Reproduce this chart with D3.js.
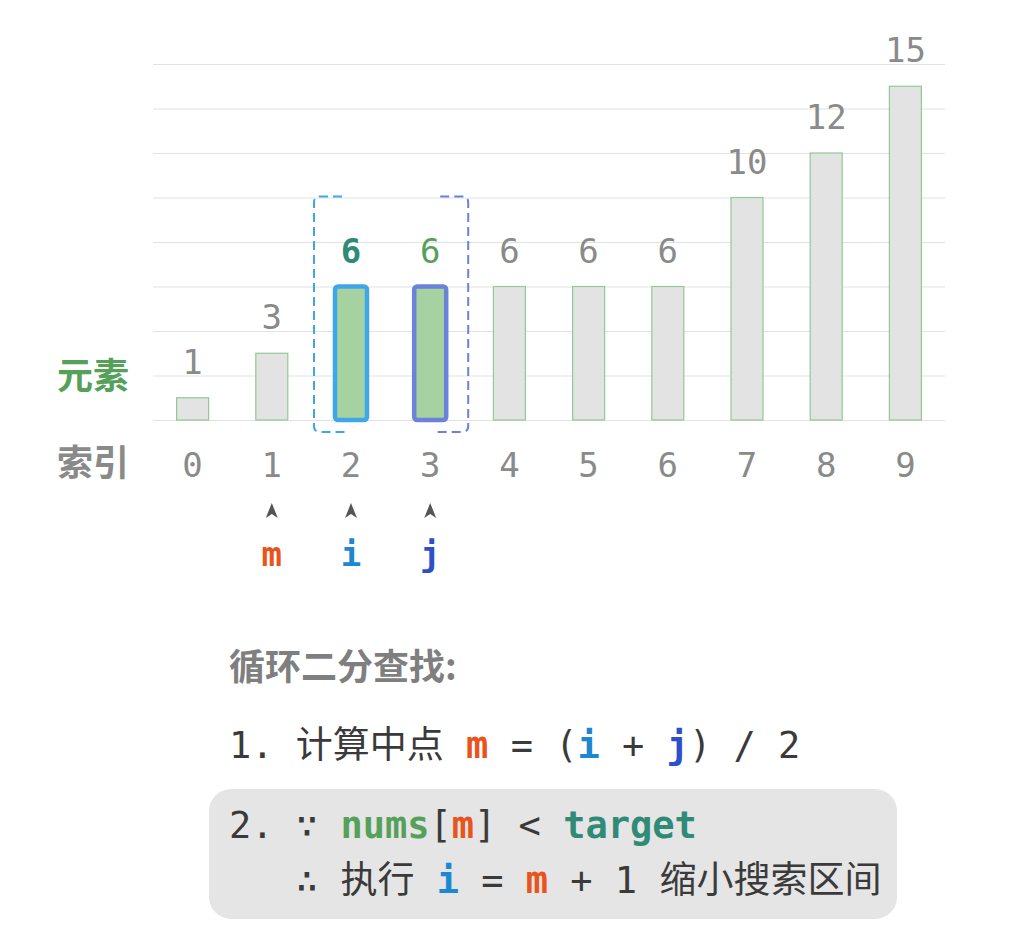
<!DOCTYPE html>
<html>
<head>
<meta charset="utf-8">
<script src="https://cdn.jsdelivr.net/npm/d3@7/dist/d3.min.js"></script>
<style>
  html, body { margin: 0; padding: 0; background: #ffffff; }
  svg { display: block; }
  text { white-space: pre; }
</style>
</head>
<body>
<script>
// ---- data ----
const indices = [0, 1, 2, 3, 4, 5, 6, 7, 8, 9];
const values = [1, 3, 6, 6, 6, 6, 6, 10, 12, 15];
const gridTicks = [0, 2, 4, 6, 8, 10, 12, 14, 16];
const pointerNames = ["m", "i", "j"];
const pointerIndex = [1, 2, 3];
const rowLabels = ["元素", "索引"];
const titleText = "循环二分查找:";

const W = 1032, H = 946;
const MONO = "'DejaVu Sans Mono', 'Noto Sans CJK SC', monospace";
const CJK = "'Noto Sans CJK SC', 'DejaVu Sans', sans-serif";
const C = {
  grid: "#e2e2e2", barFill: "#e3e3e3", barStroke: "#93c993",
  hiFill: "#a6d2a2", iStroke: "#3fa7e8", jStroke: "#6b82d9",
  label: "#8a8a8a", teal: "#2f8a78", green: "#55a15a",
  m: "#e8541b", i: "#1d87cf", j: "#2e4fcc", text: "#3a3a3a", box: "#e5e5e5"
};

const svg = d3.select("body").append("svg").attr("width", W).attr("height", H);

const x = d3.scalePoint().domain(indices).range([153, 945]).padding(0.5);
const y = d3.scaleLinear().domain([0, 16]).range([420, 64]);
const barW = 32;

// grid
svg.append("g").selectAll("line").data(gridTicks).join("line")
  .attr("x1", 153).attr("x2", 945)
  .attr("y1", d => y(d) + 0.5).attr("y2", d => y(d) + 0.5)
  .attr("stroke", C.grid).attr("stroke-width", 1.2);

// bars
const iIdx = pointerIndex[1], jIdx = pointerIndex[2];
svg.append("g").selectAll("rect").data(indices).join("rect")
  .attr("x", d => x(d) - barW / 2)
  .attr("y", d => y(values[d]))
  .attr("width", barW)
  .attr("height", d => y(0) - y(values[d]))
  .attr("rx", d => (d === iIdx || d === jIdx) ? 3 : 0)
  .attr("fill", d => (d === iIdx || d === jIdx) ? C.hiFill : C.barFill)
  .attr("stroke", d => d === iIdx ? C.iStroke : d === jIdx ? C.jStroke : C.barStroke)
  .attr("stroke-width", d => (d === iIdx || d === jIdx) ? 4.5 : 1.2);

// value labels
svg.append("g").selectAll("text").data(indices).join("text")
  .attr("x", d => x(d))
  .attr("y", d => y(values[d]) - 24)
  .attr("text-anchor", "middle")
  .attr("font-family", MONO)
  .attr("font-size", 34)
  .attr("font-weight", d => d === iIdx ? "bold" : "normal")
  .attr("fill", d => d === iIdx ? C.teal : d === jIdx ? C.green : C.label)
  .text(d => values[d]);

// dashed brackets around [i, j]
const bx0 = x(iIdx) - 37, bx1 = x(jIdx) + 38;
const byTop = y(10) - 1, byBot = y(0) + 12, r = 6;
const armL = 28;
svg.append("path")
  .attr("d", `M${bx0 + armL},${byTop} L${bx0 + r},${byTop} Q${bx0},${byTop} ${bx0},${byTop + r} L${bx0},${byBot - r} Q${bx0},${byBot} ${bx0 + r},${byBot} L${bx0 + armL + 4},${byBot}`)
  .attr("fill", "none").attr("stroke", C.iStroke).attr("stroke-width", 2)
  .attr("stroke-dasharray", "9,5");
svg.append("path")
  .attr("d", `M${bx1 - armL},${byTop} L${bx1 - r},${byTop} Q${bx1},${byTop} ${bx1},${byTop + r} L${bx1},${byBot - r} Q${bx1},${byBot} ${bx1 - r},${byBot} L${bx1 - armL - 4},${byBot}`)
  .attr("fill", "none").attr("stroke", C.jStroke).attr("stroke-width", 2)
  .attr("stroke-dasharray", "9,5");

// index labels
svg.append("g").selectAll("text").data(indices).join("text")
  .attr("x", d => x(d)).attr("y", 477)
  .attr("text-anchor", "middle")
  .attr("font-family", MONO).attr("font-size", 34)
  .attr("fill", C.label)
  .text(d => d);

// row labels
svg.append("text").attr("x", 57).attr("y", 389)
  .attr("font-family", CJK).attr("font-size", 36).attr("font-weight", "bold")
  .attr("fill", C.green).text(rowLabels[0]);
svg.append("text").attr("x", 57).attr("y", 476)
  .attr("font-family", CJK).attr("font-size", 36).attr("font-weight", "bold")
  .attr("fill", C.label).text(rowLabels[1]);

// pointer arrows and names
const pColors = [C.m, C.i, C.j];
svg.append("g").selectAll("path").data(pointerIndex).join("path")
  .attr("d", d => { const cx = x(d); return `M${cx},503 L${cx + 6},518 L${cx},514 L${cx - 6},518 Z`; })
  .attr("fill", "#555");
svg.append("g").selectAll("text").data(pointerIndex).join("text")
  .attr("x", d => x(d)).attr("y", 566)
  .attr("text-anchor", "middle")
  .attr("font-family", MONO).attr("font-size", 34).attr("font-weight", "bold")
  .attr("fill", (d, k) => pColors[k])
  .text((d, k) => pointerNames[k]);

// explanation block
svg.append("rect").attr("x", 209).attr("y", 789).attr("width", 688).attr("height", 130)
  .attr("rx", 22).attr("fill", C.box);

svg.append("text").attr("x", 229).attr("y", 680)
  .attr("font-family", CJK).attr("font-size", 36).attr("font-weight", "bold")
  .attr("fill", "#7f7f7f").text(titleText);

function line(yy, parts) {
  const t = svg.append("text").attr("x", 229).attr("y", yy)
    .attr("font-family", MONO).attr("font-size", 37).attr("fill", C.text)
    .attr("xml:space", "preserve");
  parts.forEach(p => {
    t.append("tspan").attr("fill", p[1] || C.text)
      .attr("font-weight", p[2] ? "bold" : "normal").text(p[0]);
  });
}
line(758, [["1. 计算中点 "], ["m", C.m, 1], [" = ("], ["i", C.i, 1], [" + "], ["j", C.j, 1], [") / 2"]]);
line(838, [["2. ∵ "], ["nums", C.green, 1], ["["], ["m", C.m, 1], ["] < "], ["target", C.teal, 1]]);
line(893, [["   ∴ 执行 "], ["i", C.i, 1], [" = "], ["m", C.m, 1], [" + 1 缩小搜索区间"]]);
</script>
</body>
</html>
